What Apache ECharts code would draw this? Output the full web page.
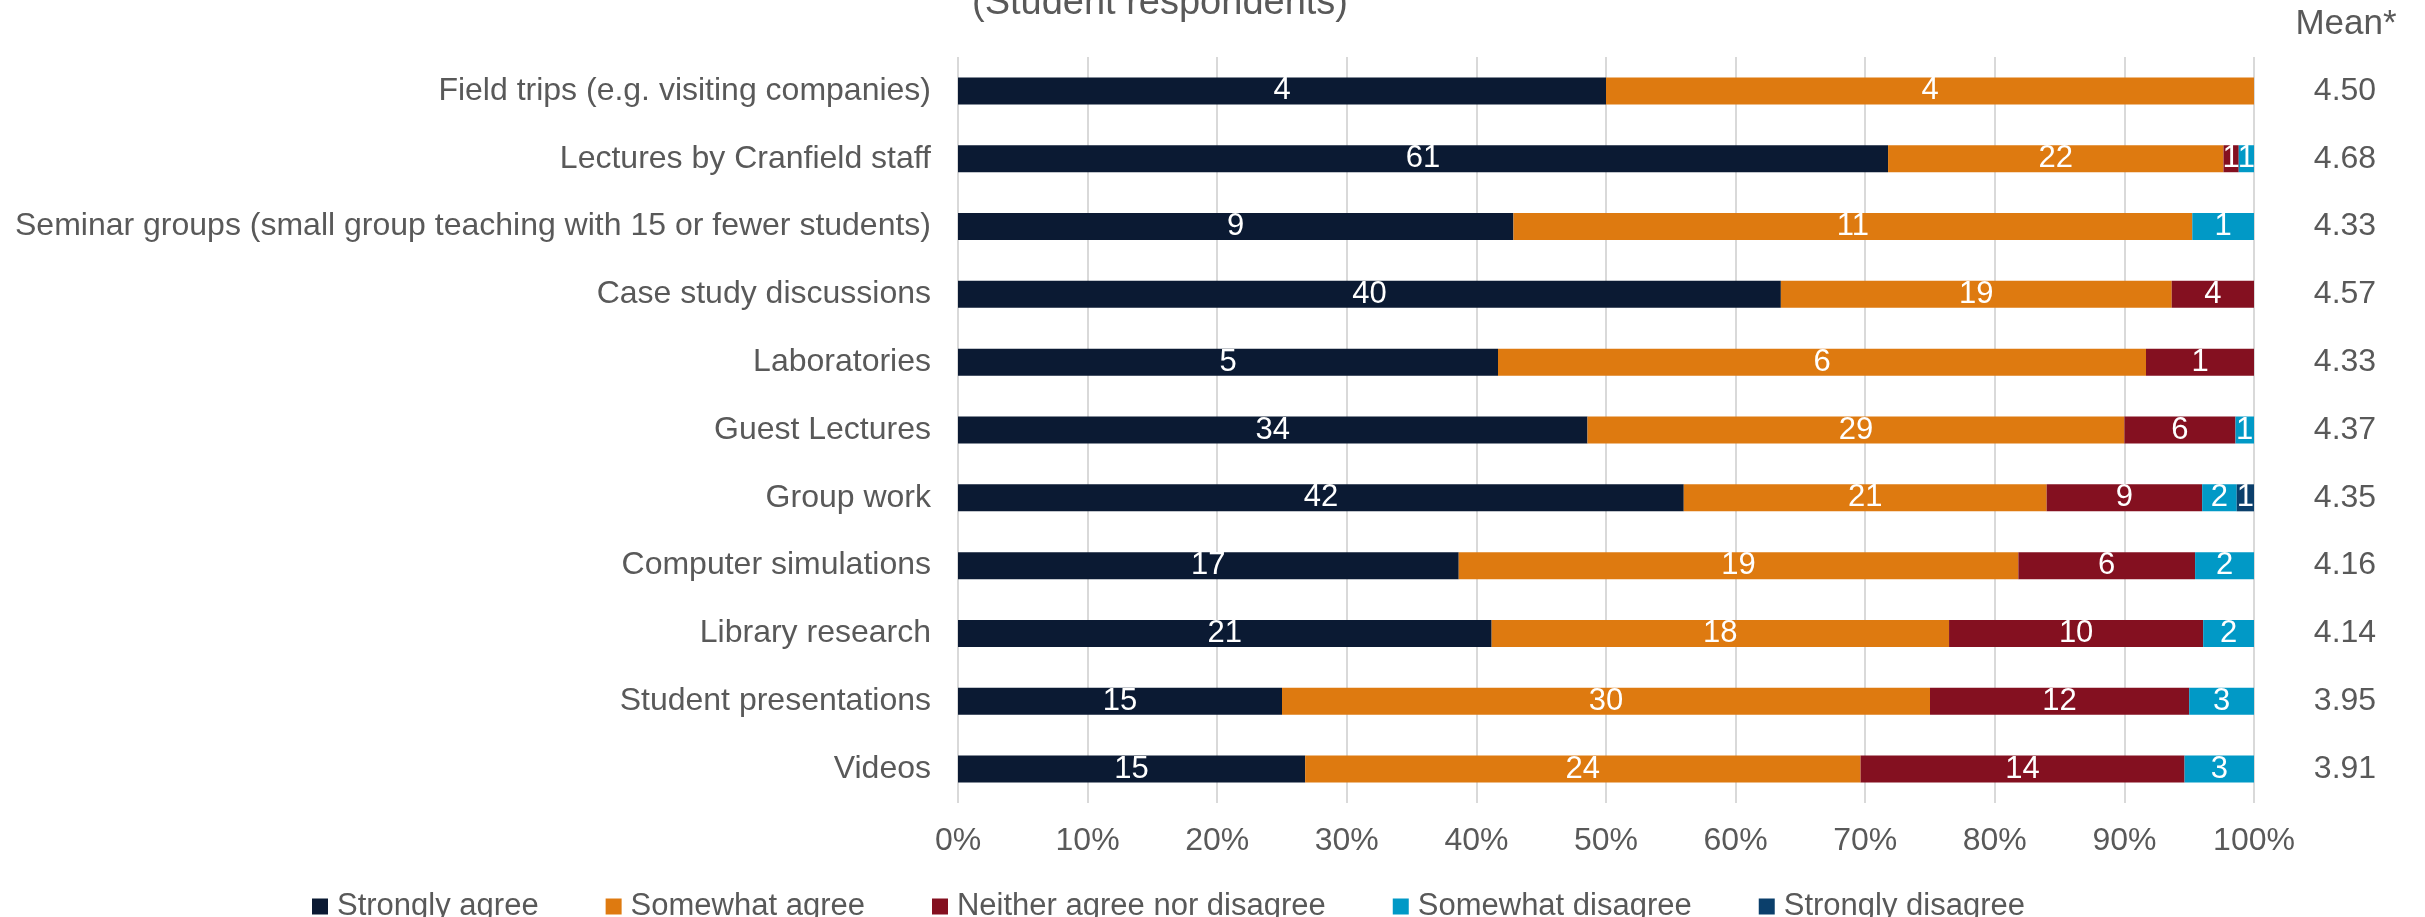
<!DOCTYPE html>
<html>
<head>
<meta charset="utf-8">
<script src="https://cdn.jsdelivr.net/npm/echarts@6/dist/echarts.min.js"></script>
<style>
  html, body { margin: 0; padding: 0; background: #ffffff; }
  #chart { width: 2425px; height: 917px; }
</style>
</head>
<body>
<div id="chart"></div>
<script>
// Teaching methods rated by student respondents (counts per response)
const categories = [
  'Field trips (e.g. visiting companies)',
  'Lectures by Cranfield staff',
  'Seminar groups (small group teaching with 15 or fewer students)',
  'Case study discussions',
  'Laboratories',
  'Guest Lectures',
  'Group work',
  'Computer simulations',
  'Library research',
  'Student presentations',
  'Videos'
];
const stronglyAgree   = [4, 61, 9, 40, 5, 34, 42, 17, 21, 15, 15];
const somewhatAgree   = [4, 22, 11, 19, 6, 29, 21, 19, 18, 30, 24];
const neither         = [0, 1, 0, 4, 1, 6, 9, 6, 10, 12, 14];
const somewhatDisagree= [0, 1, 1, 0, 0, 1, 2, 2, 2, 3, 3];
const stronglyDisagree= [0, 0, 0, 0, 0, 0, 1, 0, 0, 0, 0];
const means = ['4.50', '4.68', '4.33', '4.57', '4.33', '4.37', '4.35', '4.16', '4.14', '3.95', '3.91'];
const xTicks = [0, 10, 20, 30, 40, 50, 60, 70, 80, 90, 100];

const FONT = 'Arial, "Liberation Sans", Helvetica, sans-serif';
const GREY = '#595959';

const totals = categories.map((_, i) =>
  stronglyAgree[i] + somewhatAgree[i] + neither[i] + somewhatDisagree[i] + stronglyDisagree[i]);

function makeSeries(name, counts, color) {
  return {
    name: name,
    type: 'bar',
    stack: 'all',
    barWidth: 27,
    itemStyle: { color: color },
    label: {
      show: true,
      position: 'inside',
      color: '#ffffff',
      fontFamily: FONT,
      fontSize: 31,
      formatter: p => (counts[p.dataIndex] > 0 ? String(counts[p.dataIndex]) : '')
    },
    data: counts.map((c, i) => c / totals[i] * 100)
  };
}

const chart = echarts.init(document.getElementById('chart'));
chart.setOption({
  animation: false,
  textStyle: { fontFamily: FONT },
  grid: { left: 958, right: 171, top: 57, bottom: 114, containLabel: false, outerBoundsMode: 'none' },
  graphic: [
    {
      type: 'text',
      style: { x: 1160, y: 4, text: '(Student respondents)', fill: GREY, font: '38px ' + FONT,
        align: 'center', verticalAlign: 'middle' }
    },
    {
      type: 'text',
      style: { x: 2346, y: 24, text: 'Mean*', fill: GREY, font: '35px ' + FONT,
        align: 'center', verticalAlign: 'middle' }
    }
  ],
  legend: {
    left: 307,
    top: 886,
    icon: 'rect',
    itemWidth: 16,
    itemHeight: 16,
    itemGap: 67,
    textStyle: { color: GREY, fontSize: 31, fontFamily: FONT, padding: [0, 0, 0, 4] },
    data: ['Strongly agree', 'Somewhat agree', 'Neither agree nor disagree', 'Somewhat disagree', 'Strongly disagree']
  },
  xAxis: {
    type: 'value',
    min: 0, max: 100, interval: 10,
    axisLine: { show: false },
    axisTick: { show: false },
    splitLine: { show: true, lineStyle: { color: '#d9d9d9', width: 2 } },
    axisLabel: {
      color: GREY, fontSize: 32, fontFamily: FONT, margin: 22,
      formatter: v => (xTicks.indexOf(v) >= 0 ? v + '%' : '')
    }
  },
  yAxis: [
    {
      type: 'category',
      inverse: true,
      data: categories,
      axisLine: { show: false },
      axisTick: { show: false },
      axisLabel: { color: GREY, fontSize: 32, fontFamily: FONT, margin: 27 }
    },
    {
      type: 'category',
      inverse: true,
      position: 'right',
      data: means,
      axisLine: { show: false },
      axisTick: { show: false },
      axisLabel: { color: GREY, fontSize: 32, fontFamily: FONT, margin: 91, align: 'center' }
    }
  ],
  series: [
    makeSeries('Strongly agree', stronglyAgree, '#0b1a33'),
    makeSeries('Somewhat agree', somewhatAgree, '#de7a10'),
    makeSeries('Neither agree nor disagree', neither, '#841020'),
    makeSeries('Somewhat disagree', somewhatDisagree, '#0199c6'),
    makeSeries('Strongly disagree', stronglyDisagree, '#0b3f6b')
  ]
});
</script>
</body>
</html>
